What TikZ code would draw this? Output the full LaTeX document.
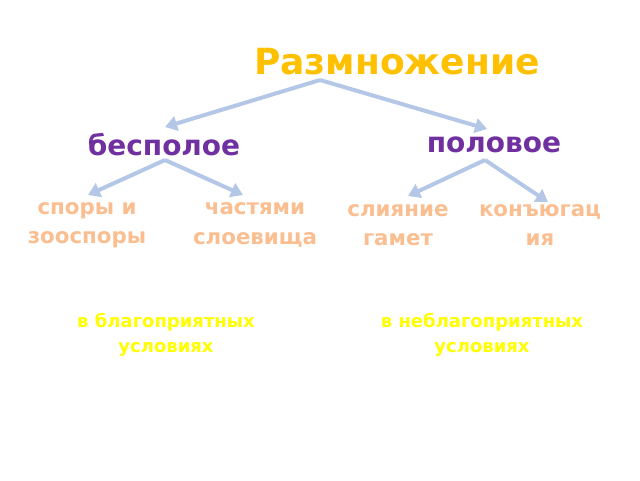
\documentclass[tikz,border=0pt]{standalone}
\usepackage{fontspec}
\setmainfont{DejaVu Sans}
\usetikzlibrary{arrows.meta}
\definecolor{gold}{RGB}{255,192,0}
\definecolor{violet}{RGB}{112,48,160}
\definecolor{peach}{RGB}{250,190,145}
\definecolor{ylw}{RGB}{255,255,0}
\definecolor{arrowblue}{RGB}{180,199,231}
\begin{document}
\begin{tikzpicture}[x=0.75pt,y=0.75pt,yscale=-1,xscale=1,
  branch/.style={draw=arrowblue,line width=3pt,-{Triangle[length=9pt,width=11pt]}},
  lvlone/.style={font=\bfseries\fontsize{21}{25}\selectfont,text=violet,inner sep=0pt},
  lvltwo/.style={font=\bfseries\fontsize{16}{22}\selectfont,text=peach,align=center,inner sep=0pt},
  cond/.style={font=\bfseries\fontsize{13.5}{18.5}\selectfont,text=ylw,align=center,inner sep=0pt}]
\useasboundingbox (0,0) rectangle (640,480);

% Title
\node[font=\bfseries\fontsize{27}{32}\selectfont,text=gold,inner sep=0pt] (title) at (397,62) {Размножение};
\coordinate (titlefoot) at (320,80);

% first level
\node[lvlone] (bes) at (164,145) {бесполое};
\node[lvlone] (pol) at (494,145) {половое};
\coordinate (besfoot) at (165,160);
\coordinate (polfoot) at (485,160);

% second level
\node[lvltwo] (spory) at (87,225) {споры и\\зооспоры};
\node[lvltwo] (chast) at (255,225) {частями\\слоевища};
\node[lvltwo] (sliyan) at (398,225) {слияние\\гамет};
\node[lvltwo] (konyug) at (540,225) {конъюгац\\ия};

% conditions
\node[cond] (blago) at (166,335) {в благоприятных\\условиях};
\node[cond] (neblago) at (482,335) {в неблагоприятных\\условиях};

% arrows
\draw[branch] (titlefoot) -- (165,127);
\draw[branch] (titlefoot) -- (487,129);
\draw[branch] (besfoot) -- (88,195);
\draw[branch] (besfoot) -- (243,195);
\draw[branch] (polfoot) -- (408,196);
\draw[branch] (polfoot) -- (548,202);

\end{tikzpicture}
\end{document}
